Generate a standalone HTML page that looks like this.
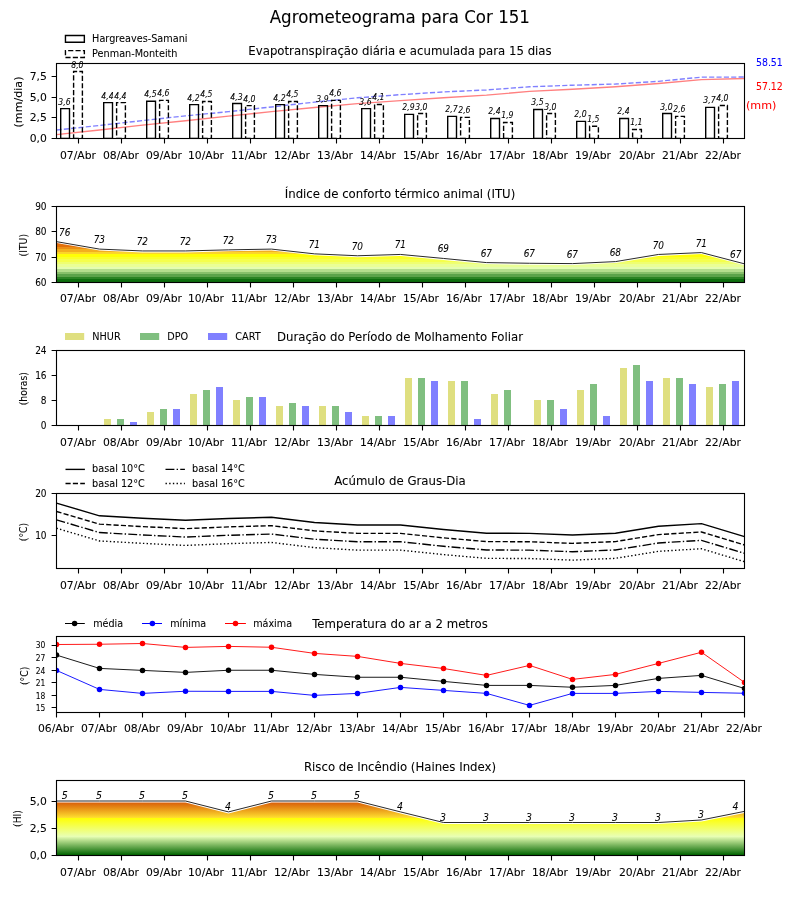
<!DOCTYPE html>
<html lang="pt"><head><meta charset="utf-8"><title>Agrometeograma para Cor 151</title>
<style>html,body{margin:0;padding:0;background:#fff}svg{display:block}</style></head><body>
<svg width="800" height="900" viewBox="0 0 800 900" font-family="'DejaVu Sans','Liberation Sans',sans-serif">
<style>text{stroke-width:0.06px;stroke-linejoin:round}</style>
<rect width="800" height="900" fill="#fff"/>
<text transform="translate(399.8 23) scale(0.926 1)" font-size="18" text-anchor="middle" stroke="#000" style="stroke-width:0.08px">Agrometeograma para Cor 151</text>
<g id="eto">
<polyline points="56.5,134.67 99.5,129.98 142.5,125.18 185.5,120.71 228.5,116.13 271.5,111.66 314.5,107.5 357.5,103.67 400.5,100.58 443.5,97.7 486.5,95.15 529.5,91.42 572.5,89.29 615.5,86.73 658.5,83.53 701.5,79.59 744.5,78.52" fill="none" stroke="#ff8080" stroke-width="1.39"/>
<polyline points="56.5,130.05 99.5,125.43 142.5,120.6 185.5,115.87 228.5,111.67 271.5,106.95 314.5,102.12 357.5,97.81 400.5,94.66 443.5,91.93 486.5,89.94 529.5,86.79 572.5,85.21 615.5,84.06 658.5,81.33 701.5,77.13 744.5,77.06" fill="none" stroke="#8080ff" stroke-width="1.39" stroke-dasharray="5.14 2.22"/>
<path d="M60.7 138.35h8.8V108.65h-8.8zM103.7 138.35h8.8V102.65h-8.8zM146.7 138.35h8.8V101.25h-8.8zM189.7 138.35h8.8V104.6h-8.8zM232.7 138.35h8.8V103.55h-8.8zM275.7 138.35h8.8V104.6h-8.8zM318.7 138.35h8.8V105.65h-8.8zM361.7 138.35h8.8V108.65h-8.8zM404.7 138.35h8.8V114.4h-8.8zM447.7 138.35h8.8V116.35h-8.8zM490.7 138.35h8.8V118.45h-8.8zM533.7 138.35h8.8V109.5h-8.8zM576.7 138.35h8.8V121.4h-8.8zM619.7 138.35h8.8V118.45h-8.8zM662.7 138.35h8.8V113.55h-8.8zM705.7 138.35h8.8V107.4h-8.8z" fill="none" stroke="#000" stroke-width="1.39"/>
<path d="M73.6 138.35h8.8V71.45h-8.8zM116.6 138.35h8.8V102.65h-8.8zM159.6 138.35h8.8V100.4h-8.8zM202.6 138.35h8.8V101.45h-8.8zM245.6 138.35h8.8V105.65h-8.8zM288.6 138.35h8.8V101.45h-8.8zM331.6 138.35h8.8V100.4h-8.8zM374.6 138.35h8.8V104.45h-8.8zM417.6 138.35h8.8V113.55h-8.8zM460.6 138.35h8.8V117.35h-8.8zM503.6 138.35h8.8V122.45h-8.8zM546.6 138.35h8.8V113.55h-8.8zM589.6 138.35h8.8V126.3h-8.8zM632.6 138.35h8.8V129.45h-8.8zM675.6 138.35h8.8V116.35h-8.8zM718.6 138.35h8.8V105.45h-8.8z" fill="none" stroke="#000" stroke-width="1.39" stroke-dasharray="5.14 2.22"/>
<rect x="56.5" y="63.5" width="688" height="75" fill="none" stroke="#000" stroke-width="1.11"/>
<text x="64.5" y="104.6" font-size="8.6" text-anchor="middle" font-style="italic" font-family="'DejaVu Sans Condensed','DejaVu Sans','Liberation Sans',sans-serif" stroke="#000">3,6</text>
<text x="77.4" y="67.7" font-size="8.6" text-anchor="middle" font-style="italic" font-family="'DejaVu Sans Condensed','DejaVu Sans','Liberation Sans',sans-serif" stroke="#000">8,0</text>
<text x="107.5" y="98.6" font-size="8.6" text-anchor="middle" font-style="italic" font-family="'DejaVu Sans Condensed','DejaVu Sans','Liberation Sans',sans-serif" stroke="#000">4,4</text>
<text x="120.4" y="98.6" font-size="8.6" text-anchor="middle" font-style="italic" font-family="'DejaVu Sans Condensed','DejaVu Sans','Liberation Sans',sans-serif" stroke="#000">4,4</text>
<text x="150.5" y="97.2" font-size="8.6" text-anchor="middle" font-style="italic" font-family="'DejaVu Sans Condensed','DejaVu Sans','Liberation Sans',sans-serif" stroke="#000">4,5</text>
<text x="163.4" y="96.35" font-size="8.6" text-anchor="middle" font-style="italic" font-family="'DejaVu Sans Condensed','DejaVu Sans','Liberation Sans',sans-serif" stroke="#000">4,6</text>
<text x="193.5" y="100.55" font-size="8.6" text-anchor="middle" font-style="italic" font-family="'DejaVu Sans Condensed','DejaVu Sans','Liberation Sans',sans-serif" stroke="#000">4,2</text>
<text x="206.4" y="97.4" font-size="8.6" text-anchor="middle" font-style="italic" font-family="'DejaVu Sans Condensed','DejaVu Sans','Liberation Sans',sans-serif" stroke="#000">4,5</text>
<text x="236.5" y="99.5" font-size="8.6" text-anchor="middle" font-style="italic" font-family="'DejaVu Sans Condensed','DejaVu Sans','Liberation Sans',sans-serif" stroke="#000">4,3</text>
<text x="249.4" y="101.6" font-size="8.6" text-anchor="middle" font-style="italic" font-family="'DejaVu Sans Condensed','DejaVu Sans','Liberation Sans',sans-serif" stroke="#000">4,0</text>
<text x="279.5" y="100.55" font-size="8.6" text-anchor="middle" font-style="italic" font-family="'DejaVu Sans Condensed','DejaVu Sans','Liberation Sans',sans-serif" stroke="#000">4,2</text>
<text x="292.4" y="97.4" font-size="8.6" text-anchor="middle" font-style="italic" font-family="'DejaVu Sans Condensed','DejaVu Sans','Liberation Sans',sans-serif" stroke="#000">4,5</text>
<text x="322.5" y="101.6" font-size="8.6" text-anchor="middle" font-style="italic" font-family="'DejaVu Sans Condensed','DejaVu Sans','Liberation Sans',sans-serif" stroke="#000">3,9</text>
<text x="335.4" y="96.35" font-size="8.6" text-anchor="middle" font-style="italic" font-family="'DejaVu Sans Condensed','DejaVu Sans','Liberation Sans',sans-serif" stroke="#000">4,6</text>
<text x="365.5" y="104.6" font-size="8.6" text-anchor="middle" font-style="italic" font-family="'DejaVu Sans Condensed','DejaVu Sans','Liberation Sans',sans-serif" stroke="#000">3,6</text>
<text x="378.4" y="100.4" font-size="8.6" text-anchor="middle" font-style="italic" font-family="'DejaVu Sans Condensed','DejaVu Sans','Liberation Sans',sans-serif" stroke="#000">4,1</text>
<text x="408.5" y="110.35" font-size="8.6" text-anchor="middle" font-style="italic" font-family="'DejaVu Sans Condensed','DejaVu Sans','Liberation Sans',sans-serif" stroke="#000">2,9</text>
<text x="421.4" y="109.5" font-size="8.6" text-anchor="middle" font-style="italic" font-family="'DejaVu Sans Condensed','DejaVu Sans','Liberation Sans',sans-serif" stroke="#000">3,0</text>
<text x="451.5" y="112.3" font-size="8.6" text-anchor="middle" font-style="italic" font-family="'DejaVu Sans Condensed','DejaVu Sans','Liberation Sans',sans-serif" stroke="#000">2,7</text>
<text x="464.4" y="113.3" font-size="8.6" text-anchor="middle" font-style="italic" font-family="'DejaVu Sans Condensed','DejaVu Sans','Liberation Sans',sans-serif" stroke="#000">2,6</text>
<text x="494.5" y="114.4" font-size="8.6" text-anchor="middle" font-style="italic" font-family="'DejaVu Sans Condensed','DejaVu Sans','Liberation Sans',sans-serif" stroke="#000">2,4</text>
<text x="507.4" y="118.4" font-size="8.6" text-anchor="middle" font-style="italic" font-family="'DejaVu Sans Condensed','DejaVu Sans','Liberation Sans',sans-serif" stroke="#000">1,9</text>
<text x="537.5" y="105.45" font-size="8.6" text-anchor="middle" font-style="italic" font-family="'DejaVu Sans Condensed','DejaVu Sans','Liberation Sans',sans-serif" stroke="#000">3,5</text>
<text x="550.4" y="109.5" font-size="8.6" text-anchor="middle" font-style="italic" font-family="'DejaVu Sans Condensed','DejaVu Sans','Liberation Sans',sans-serif" stroke="#000">3,0</text>
<text x="580.5" y="117.35" font-size="8.6" text-anchor="middle" font-style="italic" font-family="'DejaVu Sans Condensed','DejaVu Sans','Liberation Sans',sans-serif" stroke="#000">2,0</text>
<text x="593.4" y="122.25" font-size="8.6" text-anchor="middle" font-style="italic" font-family="'DejaVu Sans Condensed','DejaVu Sans','Liberation Sans',sans-serif" stroke="#000">1,5</text>
<text x="623.5" y="114.4" font-size="8.6" text-anchor="middle" font-style="italic" font-family="'DejaVu Sans Condensed','DejaVu Sans','Liberation Sans',sans-serif" stroke="#000">2,4</text>
<text x="636.4" y="125.4" font-size="8.6" text-anchor="middle" font-style="italic" font-family="'DejaVu Sans Condensed','DejaVu Sans','Liberation Sans',sans-serif" stroke="#000">1,1</text>
<text x="666.5" y="109.5" font-size="8.6" text-anchor="middle" font-style="italic" font-family="'DejaVu Sans Condensed','DejaVu Sans','Liberation Sans',sans-serif" stroke="#000">3,0</text>
<text x="679.4" y="112.3" font-size="8.6" text-anchor="middle" font-style="italic" font-family="'DejaVu Sans Condensed','DejaVu Sans','Liberation Sans',sans-serif" stroke="#000">2,6</text>
<text x="709.5" y="103.35" font-size="8.6" text-anchor="middle" font-style="italic" font-family="'DejaVu Sans Condensed','DejaVu Sans','Liberation Sans',sans-serif" stroke="#000">3,7</text>
<text x="722.4" y="101.4" font-size="8.6" text-anchor="middle" font-style="italic" font-family="'DejaVu Sans Condensed','DejaVu Sans','Liberation Sans',sans-serif" stroke="#000">4,0</text>
<path d="M78.5 138.5v4.9M121.5 138.5v4.9M164.5 138.5v4.9M207.5 138.5v4.9M250.5 138.5v4.9M293.5 138.5v4.9M336.5 138.5v4.9M379.5 138.5v4.9M422.5 138.5v4.9M465.5 138.5v4.9M508.5 138.5v4.9M551.5 138.5v4.9M594.5 138.5v4.9M637.5 138.5v4.9M680.5 138.5v4.9M723.5 138.5v4.9" stroke="#000" stroke-width="1.11" fill="none"/>
<text x="78" y="159.1" font-size="10.8" text-anchor="middle" stroke="#000">07/Abr</text>
<text x="121" y="159.1" font-size="10.8" text-anchor="middle" stroke="#000">08/Abr</text>
<text x="164" y="159.1" font-size="10.8" text-anchor="middle" stroke="#000">09/Abr</text>
<text x="206" y="159.1" font-size="10.8" text-anchor="middle" stroke="#000">10/Abr</text>
<text x="249" y="159.1" font-size="10.8" text-anchor="middle" stroke="#000">11/Abr</text>
<text x="292" y="159.1" font-size="10.8" text-anchor="middle" stroke="#000">12/Abr</text>
<text x="335" y="159.1" font-size="10.8" text-anchor="middle" stroke="#000">13/Abr</text>
<text x="378" y="159.1" font-size="10.8" text-anchor="middle" stroke="#000">14/Abr</text>
<text x="421" y="159.1" font-size="10.8" text-anchor="middle" stroke="#000">15/Abr</text>
<text x="464" y="159.1" font-size="10.8" text-anchor="middle" stroke="#000">16/Abr</text>
<text x="507" y="159.1" font-size="10.8" text-anchor="middle" stroke="#000">17/Abr</text>
<text x="550" y="159.1" font-size="10.8" text-anchor="middle" stroke="#000">18/Abr</text>
<text x="593" y="159.1" font-size="10.8" text-anchor="middle" stroke="#000">19/Abr</text>
<text x="637" y="159.1" font-size="10.8" text-anchor="middle" stroke="#000">20/Abr</text>
<text x="680" y="159.1" font-size="10.8" text-anchor="middle" stroke="#000">21/Abr</text>
<text x="723" y="159.1" font-size="10.8" text-anchor="middle" stroke="#000">22/Abr</text>
<path d="M56.5 138.5h-4.9M56.5 117.5h-4.9M56.5 97.5h-4.9M56.5 76.5h-4.9" stroke="#000" stroke-width="1.11" fill="none"/>
<text x="46.9" y="141.7" font-size="10.8" text-anchor="end" stroke="#000">0,0</text>
<text x="46.9" y="120.7" font-size="10.8" text-anchor="end" stroke="#000">2,5</text>
<text x="46.9" y="100.7" font-size="10.8" text-anchor="end" stroke="#000">5,0</text>
<text x="46.9" y="79.7" font-size="10.8" text-anchor="end" stroke="#000">7,5</text>
<text x="21.9" y="102" font-size="11.11" text-anchor="middle" stroke="#000" transform="rotate(-90 21.9 102)">(mm/dia)</text>
<text x="400" y="54.8" font-size="11.74" text-anchor="middle" stroke="#000">Evapotranspiração diária e acumulada para 15 dias</text>
<path d="M65.45 42.3h18.9v-6.85h-18.9z" fill="none" stroke="#000" stroke-width="1.39"/>
<path d="M65.45 57.5h18.9v-6.85h-18.9z" fill="none" stroke="#000" stroke-width="1.39" stroke-dasharray="5.14 2.22"/>
<text x="92.1" y="42" font-size="9.7" text-anchor="start" stroke="#000">Hargreaves-Samani</text>
<text x="92.1" y="57" font-size="9.7" text-anchor="start" stroke="#000">Penman-Monteith</text>
<text x="756" y="66" font-size="10.4" text-anchor="start" fill="#0000ff" stroke="#0000ff" font-family="'DejaVu Sans Condensed','DejaVu Sans','Liberation Sans',sans-serif">58.51</text>
<text x="756" y="90" font-size="10.4" text-anchor="start" fill="#ff0000" stroke="#ff0000" font-family="'DejaVu Sans Condensed','DejaVu Sans','Liberation Sans',sans-serif">57.12</text>
<text x="746" y="109.2" font-size="11.11" text-anchor="start" fill="#ff0000" stroke="#ff0000">(mm)</text>
</g>
<g id="itu">
<clipPath id="citu"><path d="M56.5 282.5L56.5 243.1L99.5 250.55L142.5 252.4L185.5 252.4L228.5 251.3L271.5 250.55L314.5 255.3L357.5 257.2L400.5 255.9L443.5 259.9L486.5 264.05L529.5 264.7L572.5 265.05L615.5 263.05L658.5 255.9L701.5 254.05L744.5 265.3L744.5 282.5z"/></clipPath>
<g clip-path="url(#citu)">
<rect x="56.5" y="279" width="688" height="4" fill="#0e6e0e"/>
<rect x="56.5" y="277" width="688" height="2" fill="#2c8424"/>
<rect x="56.5" y="274" width="688" height="3" fill="#5ca34a"/>
<rect x="56.5" y="272" width="688" height="2" fill="#88c06a"/>
<rect x="56.5" y="269" width="688" height="3" fill="#b5de8d"/>
<rect x="56.5" y="267" width="688" height="2" fill="#e4fdb1"/>
<rect x="56.5" y="264" width="688" height="3" fill="#eaff96"/>
<rect x="56.5" y="262" width="688" height="2" fill="#efff70"/>
<rect x="56.5" y="259" width="688" height="3" fill="#f5ff4c"/>
<rect x="56.5" y="257" width="688" height="2" fill="#faff2a"/>
<rect x="56.5" y="254" width="688" height="3" fill="#ffff06"/>
<rect x="56.5" y="252" width="688" height="2" fill="#fcd42a"/>
<rect x="56.5" y="249" width="688" height="3" fill="#f3af1e"/>
<rect x="56.5" y="247" width="688" height="2" fill="#eb8e14"/>
<rect x="56.5" y="244" width="688" height="3" fill="#e2700b"/>
<rect x="56.5" y="239" width="688" height="5" fill="#d85606"/>
</g>
<polyline points="56.5,241.65 99.5,249.1 142.5,250.95 185.5,250.95 228.5,249.85 271.5,249.1 314.5,253.85 357.5,255.75 400.5,254.45 443.5,258.45 486.5,262.6 529.5,263.25 572.5,263.6 615.5,261.6 658.5,254.45 701.5,252.6 744.5,263.85" fill="none" stroke="#111" stroke-width="0.9"/>
<text x="64.7" y="236" font-size="9.9" text-anchor="middle" font-style="italic" font-family="'DejaVu Sans Condensed','DejaVu Sans','Liberation Sans',sans-serif" stroke="#000">76</text>
<text x="99.3" y="242.9" font-size="9.9" text-anchor="middle" font-style="italic" font-family="'DejaVu Sans Condensed','DejaVu Sans','Liberation Sans',sans-serif" stroke="#000">73</text>
<text x="142.3" y="245" font-size="9.9" text-anchor="middle" font-style="italic" font-family="'DejaVu Sans Condensed','DejaVu Sans','Liberation Sans',sans-serif" stroke="#000">72</text>
<text x="185.3" y="244.75" font-size="9.9" text-anchor="middle" font-style="italic" font-family="'DejaVu Sans Condensed','DejaVu Sans','Liberation Sans',sans-serif" stroke="#000">72</text>
<text x="228.3" y="243.75" font-size="9.9" text-anchor="middle" font-style="italic" font-family="'DejaVu Sans Condensed','DejaVu Sans','Liberation Sans',sans-serif" stroke="#000">72</text>
<text x="271.3" y="242.9" font-size="9.9" text-anchor="middle" font-style="italic" font-family="'DejaVu Sans Condensed','DejaVu Sans','Liberation Sans',sans-serif" stroke="#000">73</text>
<text x="314.3" y="247.9" font-size="9.9" text-anchor="middle" font-style="italic" font-family="'DejaVu Sans Condensed','DejaVu Sans','Liberation Sans',sans-serif" stroke="#000">71</text>
<text x="357.3" y="249.6" font-size="9.9" text-anchor="middle" font-style="italic" font-family="'DejaVu Sans Condensed','DejaVu Sans','Liberation Sans',sans-serif" stroke="#000">70</text>
<text x="400.3" y="248.1" font-size="9.9" text-anchor="middle" font-style="italic" font-family="'DejaVu Sans Condensed','DejaVu Sans','Liberation Sans',sans-serif" stroke="#000">71</text>
<text x="443.3" y="251.8" font-size="9.9" text-anchor="middle" font-style="italic" font-family="'DejaVu Sans Condensed','DejaVu Sans','Liberation Sans',sans-serif" stroke="#000">69</text>
<text x="486.3" y="256.7" font-size="9.9" text-anchor="middle" font-style="italic" font-family="'DejaVu Sans Condensed','DejaVu Sans','Liberation Sans',sans-serif" stroke="#000">67</text>
<text x="529.3" y="256.7" font-size="9.9" text-anchor="middle" font-style="italic" font-family="'DejaVu Sans Condensed','DejaVu Sans','Liberation Sans',sans-serif" stroke="#000">67</text>
<text x="572.3" y="257.75" font-size="9.9" text-anchor="middle" font-style="italic" font-family="'DejaVu Sans Condensed','DejaVu Sans','Liberation Sans',sans-serif" stroke="#000">67</text>
<text x="615.3" y="255.6" font-size="9.9" text-anchor="middle" font-style="italic" font-family="'DejaVu Sans Condensed','DejaVu Sans','Liberation Sans',sans-serif" stroke="#000">68</text>
<text x="658.3" y="248.75" font-size="9.9" text-anchor="middle" font-style="italic" font-family="'DejaVu Sans Condensed','DejaVu Sans','Liberation Sans',sans-serif" stroke="#000">70</text>
<text x="701.3" y="246.9" font-size="9.9" text-anchor="middle" font-style="italic" font-family="'DejaVu Sans Condensed','DejaVu Sans','Liberation Sans',sans-serif" stroke="#000">71</text>
<text x="735.75" y="257.75" font-size="9.9" text-anchor="middle" font-style="italic" font-family="'DejaVu Sans Condensed','DejaVu Sans','Liberation Sans',sans-serif" stroke="#000">67</text>
<rect x="56.5" y="206.5" width="688" height="76" fill="none" stroke="#000" stroke-width="1.11"/>
<path d="M78.5 282.5v4.9M121.5 282.5v4.9M164.5 282.5v4.9M207.5 282.5v4.9M250.5 282.5v4.9M293.5 282.5v4.9M336.5 282.5v4.9M379.5 282.5v4.9M422.5 282.5v4.9M465.5 282.5v4.9M508.5 282.5v4.9M551.5 282.5v4.9M594.5 282.5v4.9M637.5 282.5v4.9M680.5 282.5v4.9M723.5 282.5v4.9" stroke="#000" stroke-width="1.11" fill="none"/>
<text x="78" y="302.1" font-size="10.8" text-anchor="middle" stroke="#000">07/Abr</text>
<text x="121" y="302.1" font-size="10.8" text-anchor="middle" stroke="#000">08/Abr</text>
<text x="164" y="302.1" font-size="10.8" text-anchor="middle" stroke="#000">09/Abr</text>
<text x="206" y="302.1" font-size="10.8" text-anchor="middle" stroke="#000">10/Abr</text>
<text x="249" y="302.1" font-size="10.8" text-anchor="middle" stroke="#000">11/Abr</text>
<text x="292" y="302.1" font-size="10.8" text-anchor="middle" stroke="#000">12/Abr</text>
<text x="335" y="302.1" font-size="10.8" text-anchor="middle" stroke="#000">13/Abr</text>
<text x="378" y="302.1" font-size="10.8" text-anchor="middle" stroke="#000">14/Abr</text>
<text x="421" y="302.1" font-size="10.8" text-anchor="middle" stroke="#000">15/Abr</text>
<text x="464" y="302.1" font-size="10.8" text-anchor="middle" stroke="#000">16/Abr</text>
<text x="507" y="302.1" font-size="10.8" text-anchor="middle" stroke="#000">17/Abr</text>
<text x="550" y="302.1" font-size="10.8" text-anchor="middle" stroke="#000">18/Abr</text>
<text x="593" y="302.1" font-size="10.8" text-anchor="middle" stroke="#000">19/Abr</text>
<text x="637" y="302.1" font-size="10.8" text-anchor="middle" stroke="#000">20/Abr</text>
<text x="680" y="302.1" font-size="10.8" text-anchor="middle" stroke="#000">21/Abr</text>
<text x="723" y="302.1" font-size="10.8" text-anchor="middle" stroke="#000">22/Abr</text>
<path d="M56.5 282.5h-4.9M56.5 257.5h-4.9M56.5 231.5h-4.9M56.5 206.5h-4.9" stroke="#000" stroke-width="1.11" fill="none"/>
<text x="46.6" y="285.6" font-size="10" text-anchor="end" stroke="#000" font-family="'DejaVu Sans Condensed','DejaVu Sans','Liberation Sans',sans-serif">60</text>
<text x="46.6" y="260.6" font-size="10" text-anchor="end" stroke="#000" font-family="'DejaVu Sans Condensed','DejaVu Sans','Liberation Sans',sans-serif">70</text>
<text x="46.6" y="234.6" font-size="10" text-anchor="end" stroke="#000" font-family="'DejaVu Sans Condensed','DejaVu Sans','Liberation Sans',sans-serif">80</text>
<text x="46.6" y="209.6" font-size="10" text-anchor="end" stroke="#000" font-family="'DejaVu Sans Condensed','DejaVu Sans','Liberation Sans',sans-serif">90</text>
<text x="27" y="245.2" font-size="10.3" text-anchor="middle" stroke="#000" transform="rotate(-90 27 245.2)" font-family="'DejaVu Sans Condensed','DejaVu Sans','Liberation Sans',sans-serif">(ITU)</text>
<text x="400" y="197.9" font-size="11.74" text-anchor="middle" stroke="#000">Índice de conforto térmico animal (ITU)</text>
</g>
<g id="dpm" shape-rendering="crispEdges">
<path d="M104 425H111V419H104zM147 425H154V412H147zM190 425H197V394H190zM233 425H240V400H233zM276 425H283V406H276zM319 425H326V406H319zM362 425H369V416H362zM405 425H412V378H405zM448 425H455V381H448zM491 425H498V394H491zM534 425H541V400H534zM577 425H584V390H577zM620 425H627V368H620zM663 425H670V378H663zM706 425H713V387H706z" fill="#dfdf80"/>
<path d="M117 425H124V419H117zM160 425H167V409H160zM203 425H210V390H203zM246 425H253V397H246zM289 425H296V403H289zM332 425H339V406H332zM375 425H382V416H375zM418 425H425V378H418zM461 425H468V381H461zM504 425H511V390H504zM547 425H554V400H547zM590 425H597V384H590zM633 425H640V365H633zM676 425H683V378H676zM719 425H726V384H719z" fill="#80bf80"/>
<path d="M130 425H137V422H130zM173 425H180V409H173zM216 425H223V387H216zM259 425H266V397H259zM302 425H309V406H302zM345 425H352V412H345zM388 425H395V416H388zM431 425H438V381H431zM474 425H481V419H474zM560 425H567V409H560zM603 425H610V416H603zM646 425H653V381H646zM689 425H696V384H689zM732 425H739V381H732z" fill="#8080ff"/>
</g>
<g id="dpm-axes">
<rect x="56.5" y="350.5" width="688" height="75" fill="none" stroke="#000" stroke-width="1.11"/>
<path d="M78.5 425.5v4.9M121.5 425.5v4.9M164.5 425.5v4.9M207.5 425.5v4.9M250.5 425.5v4.9M293.5 425.5v4.9M336.5 425.5v4.9M379.5 425.5v4.9M422.5 425.5v4.9M465.5 425.5v4.9M508.5 425.5v4.9M551.5 425.5v4.9M594.5 425.5v4.9M637.5 425.5v4.9M680.5 425.5v4.9M723.5 425.5v4.9" stroke="#000" stroke-width="1.11" fill="none"/>
<text x="78" y="446.1" font-size="10.8" text-anchor="middle" stroke="#000">07/Abr</text>
<text x="121" y="446.1" font-size="10.8" text-anchor="middle" stroke="#000">08/Abr</text>
<text x="164" y="446.1" font-size="10.8" text-anchor="middle" stroke="#000">09/Abr</text>
<text x="206" y="446.1" font-size="10.8" text-anchor="middle" stroke="#000">10/Abr</text>
<text x="249" y="446.1" font-size="10.8" text-anchor="middle" stroke="#000">11/Abr</text>
<text x="292" y="446.1" font-size="10.8" text-anchor="middle" stroke="#000">12/Abr</text>
<text x="335" y="446.1" font-size="10.8" text-anchor="middle" stroke="#000">13/Abr</text>
<text x="378" y="446.1" font-size="10.8" text-anchor="middle" stroke="#000">14/Abr</text>
<text x="421" y="446.1" font-size="10.8" text-anchor="middle" stroke="#000">15/Abr</text>
<text x="464" y="446.1" font-size="10.8" text-anchor="middle" stroke="#000">16/Abr</text>
<text x="507" y="446.1" font-size="10.8" text-anchor="middle" stroke="#000">17/Abr</text>
<text x="550" y="446.1" font-size="10.8" text-anchor="middle" stroke="#000">18/Abr</text>
<text x="593" y="446.1" font-size="10.8" text-anchor="middle" stroke="#000">19/Abr</text>
<text x="637" y="446.1" font-size="10.8" text-anchor="middle" stroke="#000">20/Abr</text>
<text x="680" y="446.1" font-size="10.8" text-anchor="middle" stroke="#000">21/Abr</text>
<text x="723" y="446.1" font-size="10.8" text-anchor="middle" stroke="#000">22/Abr</text>
<path d="M56.5 425.5h-4.9M56.5 400.5h-4.9M56.5 375.5h-4.9M56.5 350.5h-4.9" stroke="#000" stroke-width="1.11" fill="none"/>
<text x="46.6" y="428.6" font-size="10" text-anchor="end" stroke="#000" font-family="'DejaVu Sans Condensed','DejaVu Sans','Liberation Sans',sans-serif">0</text>
<text x="46.6" y="403.6" font-size="10" text-anchor="end" stroke="#000" font-family="'DejaVu Sans Condensed','DejaVu Sans','Liberation Sans',sans-serif">8</text>
<text x="46.6" y="378.6" font-size="10" text-anchor="end" stroke="#000" font-family="'DejaVu Sans Condensed','DejaVu Sans','Liberation Sans',sans-serif">16</text>
<text x="46.6" y="353.6" font-size="10" text-anchor="end" stroke="#000" font-family="'DejaVu Sans Condensed','DejaVu Sans','Liberation Sans',sans-serif">24</text>
<text x="27" y="388.7" font-size="10.3" text-anchor="middle" stroke="#000" transform="rotate(-90 27 388.7)" font-family="'DejaVu Sans Condensed','DejaVu Sans','Liberation Sans',sans-serif">(horas)</text>
<text x="400" y="341.1" font-size="11.74" text-anchor="middle" stroke="#000">Duração do Período de Molhamento Foliar</text>
<rect x="65" y="333" width="19.2" height="7" fill="#dfdf80"/>
<text x="92.3" y="340.2" font-size="9.7" text-anchor="start" stroke="#000">NHUR</text>
<rect x="140" y="333" width="19.2" height="7" fill="#80bf80"/>
<text x="167.3" y="340.2" font-size="9.7" text-anchor="start" stroke="#000">DPO</text>
<rect x="208" y="333" width="19.2" height="7" fill="#8080ff"/>
<text x="235.3" y="340.2" font-size="9.7" text-anchor="start" stroke="#000">CART</text>
</g>
<g id="gd">
<clipPath id="c4"><rect x="56.5" y="493.5" width="688" height="75"/></clipPath>
<g clip-path="url(#c4)" fill="none" stroke="#000" stroke-width="1.39">
<polyline points="56.5,503.1 99.5,515.8 142.5,518.2 185.5,520.3 228.5,518.5 271.5,517.3 314.5,522.5 357.5,525 400.5,525 443.5,529.5 486.5,533.2 529.5,533.4 572.5,535 615.5,533.2 658.5,526.2 701.5,523.6 744.5,536.6"/>
<polyline points="56.5,511.48 99.5,524.18 142.5,526.58 185.5,528.68 228.5,526.88 271.5,525.68 314.5,530.88 357.5,533.38 400.5,533.38 443.5,537.88 486.5,541.58 529.5,541.78 572.5,543.38 615.5,541.58 658.5,534.58 701.5,531.98 744.5,544.98" stroke-dasharray="5.14 2.22"/>
<polyline points="56.5,519.86 99.5,532.56 142.5,534.96 185.5,537.06 228.5,535.26 271.5,534.06 314.5,539.26 357.5,541.76 400.5,541.76 443.5,546.26 486.5,549.96 529.5,550.16 572.5,551.76 615.5,549.96 658.5,542.96 701.5,540.36 744.5,553.36" stroke-dasharray="8.9 2.22 1.39 2.22"/>
<polyline points="56.5,528.24 99.5,540.94 142.5,543.34 185.5,545.44 228.5,543.64 271.5,542.44 314.5,547.64 357.5,550.14 400.5,550.14 443.5,554.64 486.5,558.34 529.5,558.54 572.5,560.14 615.5,558.34 658.5,551.34 701.5,548.74 744.5,561.74" stroke-dasharray="1.39 2.29"/>
</g>
<rect x="56.5" y="493.5" width="688" height="75" fill="none" stroke="#000" stroke-width="1.11"/>
<path d="M78.5 568.5v4.9M121.5 568.5v4.9M164.5 568.5v4.9M207.5 568.5v4.9M250.5 568.5v4.9M293.5 568.5v4.9M336.5 568.5v4.9M379.5 568.5v4.9M422.5 568.5v4.9M465.5 568.5v4.9M508.5 568.5v4.9M551.5 568.5v4.9M594.5 568.5v4.9M637.5 568.5v4.9M680.5 568.5v4.9M723.5 568.5v4.9" stroke="#000" stroke-width="1.11" fill="none"/>
<text x="78" y="589.1" font-size="10.8" text-anchor="middle" stroke="#000">07/Abr</text>
<text x="121" y="589.1" font-size="10.8" text-anchor="middle" stroke="#000">08/Abr</text>
<text x="164" y="589.1" font-size="10.8" text-anchor="middle" stroke="#000">09/Abr</text>
<text x="206" y="589.1" font-size="10.8" text-anchor="middle" stroke="#000">10/Abr</text>
<text x="249" y="589.1" font-size="10.8" text-anchor="middle" stroke="#000">11/Abr</text>
<text x="292" y="589.1" font-size="10.8" text-anchor="middle" stroke="#000">12/Abr</text>
<text x="335" y="589.1" font-size="10.8" text-anchor="middle" stroke="#000">13/Abr</text>
<text x="378" y="589.1" font-size="10.8" text-anchor="middle" stroke="#000">14/Abr</text>
<text x="421" y="589.1" font-size="10.8" text-anchor="middle" stroke="#000">15/Abr</text>
<text x="464" y="589.1" font-size="10.8" text-anchor="middle" stroke="#000">16/Abr</text>
<text x="507" y="589.1" font-size="10.8" text-anchor="middle" stroke="#000">17/Abr</text>
<text x="550" y="589.1" font-size="10.8" text-anchor="middle" stroke="#000">18/Abr</text>
<text x="593" y="589.1" font-size="10.8" text-anchor="middle" stroke="#000">19/Abr</text>
<text x="637" y="589.1" font-size="10.8" text-anchor="middle" stroke="#000">20/Abr</text>
<text x="680" y="589.1" font-size="10.8" text-anchor="middle" stroke="#000">21/Abr</text>
<text x="723" y="589.1" font-size="10.8" text-anchor="middle" stroke="#000">22/Abr</text>
<path d="M56.5 535.5h-4.9M56.5 493.5h-4.9" stroke="#000" stroke-width="1.11" fill="none"/>
<text x="46.6" y="538.6" font-size="10" text-anchor="end" stroke="#000" font-family="'DejaVu Sans Condensed','DejaVu Sans','Liberation Sans',sans-serif">10</text>
<text x="46.6" y="496.6" font-size="10" text-anchor="end" stroke="#000" font-family="'DejaVu Sans Condensed','DejaVu Sans','Liberation Sans',sans-serif">20</text>
<text x="27" y="532" font-size="10.3" text-anchor="middle" stroke="#000" transform="rotate(-90 27 532)" font-family="'DejaVu Sans Condensed','DejaVu Sans','Liberation Sans',sans-serif">(°C)</text>
<text x="400" y="484.5" font-size="11.74" text-anchor="middle" stroke="#000">Acúmulo de Graus-Dia</text>
<path d="M65.5 469.4h19.4" stroke="#000" stroke-width="1.39" fill="none"/>
<text x="92.1" y="472.1" font-size="9.7" text-anchor="start" stroke="#000">basal 10°C</text>
<path d="M65.5 483.5h19.4" stroke="#000" stroke-width="1.39" fill="none" stroke-dasharray="5.14 2.22"/>
<text x="92.1" y="487.1" font-size="9.7" text-anchor="start" stroke="#000">basal 12°C</text>
<path d="M165.5 469.4h19.4" stroke="#000" stroke-width="1.39" fill="none" stroke-dasharray="8.9 2.22 1.39 2.22"/>
<text x="192.1" y="472.1" font-size="9.7" text-anchor="start" stroke="#000">basal 14°C</text>
<path d="M165.5 483.5h19.4" stroke="#000" stroke-width="1.39" fill="none" stroke-dasharray="1.39 2.29"/>
<text x="192.1" y="487.1" font-size="9.7" text-anchor="start" stroke="#000">basal 16°C</text>
</g>
<g id="temp">
<clipPath id="c5"><rect x="56" y="636.5" width="689" height="76"/></clipPath>
<g clip-path="url(#c5)">
<polyline points="56.5,655.1 99.5,668.4 142.5,670.4 185.5,672.4 228.5,670.25 271.5,670.25 314.5,674.4 357.5,677.25 400.5,677.25 443.5,681.4 486.5,685.4 529.5,685.4 572.5,687.25 615.5,685.4 658.5,678.4 701.5,675.4 744.5,688.5" fill="none" stroke="#000" stroke-width="0.9"/>
<g fill="#000"><circle cx="56.5" cy="655.1" r="2.75"/><circle cx="99.5" cy="668.4" r="2.75"/><circle cx="142.5" cy="670.4" r="2.75"/><circle cx="185.5" cy="672.4" r="2.75"/><circle cx="228.5" cy="670.25" r="2.75"/><circle cx="271.5" cy="670.25" r="2.75"/><circle cx="314.5" cy="674.4" r="2.75"/><circle cx="357.5" cy="677.25" r="2.75"/><circle cx="400.5" cy="677.25" r="2.75"/><circle cx="443.5" cy="681.4" r="2.75"/><circle cx="486.5" cy="685.4" r="2.75"/><circle cx="529.5" cy="685.4" r="2.75"/><circle cx="572.5" cy="687.25" r="2.75"/><circle cx="615.5" cy="685.4" r="2.75"/><circle cx="658.5" cy="678.4" r="2.75"/><circle cx="701.5" cy="675.4" r="2.75"/><circle cx="744.5" cy="688.5" r="2.75"/></g>
<polyline points="56.5,670.4 99.5,689.4 142.5,693.4 185.5,691.25 228.5,691.4 271.5,691.4 314.5,695.4 357.5,693.4 400.5,687.4 443.5,690.4 486.5,693.4 529.5,705.4 572.5,693.4 615.5,693.4 658.5,691.4 701.5,692.4 744.5,693.25" fill="none" stroke="#0000ff" stroke-width="0.9"/>
<g fill="#0000ff"><circle cx="56.5" cy="670.4" r="2.75"/><circle cx="99.5" cy="689.4" r="2.75"/><circle cx="142.5" cy="693.4" r="2.75"/><circle cx="185.5" cy="691.25" r="2.75"/><circle cx="228.5" cy="691.4" r="2.75"/><circle cx="271.5" cy="691.4" r="2.75"/><circle cx="314.5" cy="695.4" r="2.75"/><circle cx="357.5" cy="693.4" r="2.75"/><circle cx="400.5" cy="687.4" r="2.75"/><circle cx="443.5" cy="690.4" r="2.75"/><circle cx="486.5" cy="693.4" r="2.75"/><circle cx="529.5" cy="705.4" r="2.75"/><circle cx="572.5" cy="693.4" r="2.75"/><circle cx="615.5" cy="693.4" r="2.75"/><circle cx="658.5" cy="691.4" r="2.75"/><circle cx="701.5" cy="692.4" r="2.75"/><circle cx="744.5" cy="693.25" r="2.75"/></g>
<polyline points="56.5,644.5 99.5,644.25 142.5,643.5 185.5,647.4 228.5,646.4 271.5,647.25 314.5,653.4 357.5,656.4 400.5,663.4 443.5,668.5 486.5,675.4 529.5,665.4 572.5,679.4 615.5,674.4 658.5,663.4 701.5,652.25 744.5,682.4" fill="none" stroke="#ff0000" stroke-width="0.9"/>
<g fill="#ff0000"><circle cx="56.5" cy="644.5" r="2.75"/><circle cx="99.5" cy="644.25" r="2.75"/><circle cx="142.5" cy="643.5" r="2.75"/><circle cx="185.5" cy="647.4" r="2.75"/><circle cx="228.5" cy="646.4" r="2.75"/><circle cx="271.5" cy="647.25" r="2.75"/><circle cx="314.5" cy="653.4" r="2.75"/><circle cx="357.5" cy="656.4" r="2.75"/><circle cx="400.5" cy="663.4" r="2.75"/><circle cx="443.5" cy="668.5" r="2.75"/><circle cx="486.5" cy="675.4" r="2.75"/><circle cx="529.5" cy="665.4" r="2.75"/><circle cx="572.5" cy="679.4" r="2.75"/><circle cx="615.5" cy="674.4" r="2.75"/><circle cx="658.5" cy="663.4" r="2.75"/><circle cx="701.5" cy="652.25" r="2.75"/><circle cx="744.5" cy="682.4" r="2.75"/></g>
</g>
<rect x="56.5" y="636.5" width="688" height="76" fill="none" stroke="#000" stroke-width="1.11"/>
<path d="M56.5 712.5v4.9M99.5 712.5v4.9M142.5 712.5v4.9M185.5 712.5v4.9M228.5 712.5v4.9M271.5 712.5v4.9M314.5 712.5v4.9M357.5 712.5v4.9M400.5 712.5v4.9M443.5 712.5v4.9M486.5 712.5v4.9M529.5 712.5v4.9M572.5 712.5v4.9M615.5 712.5v4.9M658.5 712.5v4.9M701.5 712.5v4.9M744.5 712.5v4.9" stroke="#000" stroke-width="1.11" fill="none"/>
<text x="56" y="732.1" font-size="10.8" text-anchor="middle" stroke="#000">06/Abr</text>
<text x="99" y="732.1" font-size="10.8" text-anchor="middle" stroke="#000">07/Abr</text>
<text x="142" y="732.1" font-size="10.8" text-anchor="middle" stroke="#000">08/Abr</text>
<text x="185" y="732.1" font-size="10.8" text-anchor="middle" stroke="#000">09/Abr</text>
<text x="228" y="732.1" font-size="10.8" text-anchor="middle" stroke="#000">10/Abr</text>
<text x="271" y="732.1" font-size="10.8" text-anchor="middle" stroke="#000">11/Abr</text>
<text x="314" y="732.1" font-size="10.8" text-anchor="middle" stroke="#000">12/Abr</text>
<text x="357" y="732.1" font-size="10.8" text-anchor="middle" stroke="#000">13/Abr</text>
<text x="400" y="732.1" font-size="10.8" text-anchor="middle" stroke="#000">14/Abr</text>
<text x="443" y="732.1" font-size="10.8" text-anchor="middle" stroke="#000">15/Abr</text>
<text x="486" y="732.1" font-size="10.8" text-anchor="middle" stroke="#000">16/Abr</text>
<text x="529" y="732.1" font-size="10.8" text-anchor="middle" stroke="#000">17/Abr</text>
<text x="572" y="732.1" font-size="10.8" text-anchor="middle" stroke="#000">18/Abr</text>
<text x="615" y="732.1" font-size="10.8" text-anchor="middle" stroke="#000">19/Abr</text>
<text x="658" y="732.1" font-size="10.8" text-anchor="middle" stroke="#000">20/Abr</text>
<text x="701" y="732.1" font-size="10.8" text-anchor="middle" stroke="#000">21/Abr</text>
<text x="744" y="732.1" font-size="10.8" text-anchor="middle" stroke="#000">22/Abr</text>
<path d="M56.5 707.5h-4.9M56.5 695.5h-4.9M56.5 682.5h-4.9M56.5 670.5h-4.9M56.5 657.5h-4.9M56.5 645.5h-4.9" stroke="#000" stroke-width="1.11" fill="none"/>
<text transform="translate(45.3 711) scale(0.875 1)" font-size="9.6" text-anchor="end" stroke="#000" font-family="'DejaVu Sans Condensed','DejaVu Sans','Liberation Sans',sans-serif">15</text>
<text transform="translate(45.3 698.5) scale(0.875 1)" font-size="9.6" text-anchor="end" stroke="#000" font-family="'DejaVu Sans Condensed','DejaVu Sans','Liberation Sans',sans-serif">18</text>
<text transform="translate(45.3 686) scale(0.875 1)" font-size="9.6" text-anchor="end" stroke="#000" font-family="'DejaVu Sans Condensed','DejaVu Sans','Liberation Sans',sans-serif">21</text>
<text transform="translate(45.3 673.5) scale(0.875 1)" font-size="9.6" text-anchor="end" stroke="#000" font-family="'DejaVu Sans Condensed','DejaVu Sans','Liberation Sans',sans-serif">24</text>
<text transform="translate(45.3 661) scale(0.875 1)" font-size="9.6" text-anchor="end" stroke="#000" font-family="'DejaVu Sans Condensed','DejaVu Sans','Liberation Sans',sans-serif">27</text>
<text transform="translate(45.3 648) scale(0.875 1)" font-size="9.6" text-anchor="end" stroke="#000" font-family="'DejaVu Sans Condensed','DejaVu Sans','Liberation Sans',sans-serif">30</text>
<text x="28.3" y="675.9" font-size="10.3" text-anchor="middle" stroke="#000" transform="rotate(-90 28.3 675.9)" font-family="'DejaVu Sans Condensed','DejaVu Sans','Liberation Sans',sans-serif">(°C)</text>
<text x="400" y="627.8" font-size="11.74" text-anchor="middle" stroke="#000">Temperatura do ar a 2 metros</text>
<path d="M65 623.5h19.8" stroke="#000" stroke-width="1.0" fill="none"/>
<circle cx="74.6" cy="623.5" r="2.75" fill="#000"/>
<text x="93.2" y="627.1" font-size="9.62" text-anchor="start" stroke="#000">média</text>
<path d="M142 623.5h20" stroke="#0000ff" stroke-width="1.0" fill="none"/>
<circle cx="152.4" cy="623.5" r="2.75" fill="#0000ff"/>
<text x="170.2" y="627.1" font-size="9.62" text-anchor="start" stroke="#000">mínima</text>
<path d="M225 623.5h20.9" stroke="#ff0000" stroke-width="1.0" fill="none"/>
<circle cx="235.5" cy="623.5" r="2.75" fill="#ff0000"/>
<text x="253.2" y="627.1" font-size="9.62" text-anchor="start" stroke="#000">máxima</text>
</g>
<g id="hi">
<clipPath id="chi"><path d="M56.5 855.5L56.5 802.55L99.5 802.55L142.5 802.55L185.5 802.55L228.5 813.45L271.5 802.55L314.5 802.55L357.5 802.55L400.5 813.45L443.5 824.05L486.5 824.05L529.5 824.05L572.5 824.05L615.5 824.05L658.5 824.05L701.5 821.53L744.5 812.91L744.5 855.5z"/></clipPath>
<linearGradient id="ghi" gradientUnits="userSpaceOnUse" x1="0" y1="855" x2="0" y2="801.12">
<stop offset="0" stop-color="#006400"/>
<stop offset="0.345" stop-color="#e8ffb4"/>
<stop offset="0.693" stop-color="#ffff00"/>
<stop offset="0.6931" stop-color="#fede2e"/>
<stop offset="1" stop-color="#d65406"/>
</linearGradient>
<rect x="56.5" y="798.12" width="688" height="58.38" fill="url(#ghi)" clip-path="url(#chi)"/>
<polyline points="56.5,801 99.5,801 142.5,801 185.5,801 228.5,811.9 271.5,801 314.5,801 357.5,801 400.5,811.9 443.5,822.5 486.5,822.5 529.5,822.5 572.5,822.5 615.5,822.5 658.5,822.5 701.5,819.98 744.5,811.36" fill="none" stroke="#111" stroke-width="0.9"/>
<text x="64.8" y="798.62" font-size="10.4" text-anchor="middle" font-style="italic" font-family="'DejaVu Sans Condensed','DejaVu Sans','Liberation Sans',sans-serif" stroke="#000">5</text>
<text x="98.9" y="798.62" font-size="10.4" text-anchor="middle" font-style="italic" font-family="'DejaVu Sans Condensed','DejaVu Sans','Liberation Sans',sans-serif" stroke="#000">5</text>
<text x="141.9" y="798.62" font-size="10.4" text-anchor="middle" font-style="italic" font-family="'DejaVu Sans Condensed','DejaVu Sans','Liberation Sans',sans-serif" stroke="#000">5</text>
<text x="184.9" y="798.62" font-size="10.4" text-anchor="middle" font-style="italic" font-family="'DejaVu Sans Condensed','DejaVu Sans','Liberation Sans',sans-serif" stroke="#000">5</text>
<text x="227.9" y="810.3" font-size="10.4" text-anchor="middle" font-style="italic" font-family="'DejaVu Sans Condensed','DejaVu Sans','Liberation Sans',sans-serif" stroke="#000">4</text>
<text x="270.9" y="798.62" font-size="10.4" text-anchor="middle" font-style="italic" font-family="'DejaVu Sans Condensed','DejaVu Sans','Liberation Sans',sans-serif" stroke="#000">5</text>
<text x="313.9" y="798.62" font-size="10.4" text-anchor="middle" font-style="italic" font-family="'DejaVu Sans Condensed','DejaVu Sans','Liberation Sans',sans-serif" stroke="#000">5</text>
<text x="356.9" y="798.62" font-size="10.4" text-anchor="middle" font-style="italic" font-family="'DejaVu Sans Condensed','DejaVu Sans','Liberation Sans',sans-serif" stroke="#000">5</text>
<text x="399.9" y="810.3" font-size="10.4" text-anchor="middle" font-style="italic" font-family="'DejaVu Sans Condensed','DejaVu Sans','Liberation Sans',sans-serif" stroke="#000">4</text>
<text x="442.9" y="821.07" font-size="10.4" text-anchor="middle" font-style="italic" font-family="'DejaVu Sans Condensed','DejaVu Sans','Liberation Sans',sans-serif" stroke="#000">3</text>
<text x="485.9" y="821.07" font-size="10.4" text-anchor="middle" font-style="italic" font-family="'DejaVu Sans Condensed','DejaVu Sans','Liberation Sans',sans-serif" stroke="#000">3</text>
<text x="528.9" y="821.07" font-size="10.4" text-anchor="middle" font-style="italic" font-family="'DejaVu Sans Condensed','DejaVu Sans','Liberation Sans',sans-serif" stroke="#000">3</text>
<text x="571.9" y="821.07" font-size="10.4" text-anchor="middle" font-style="italic" font-family="'DejaVu Sans Condensed','DejaVu Sans','Liberation Sans',sans-serif" stroke="#000">3</text>
<text x="614.9" y="821.07" font-size="10.4" text-anchor="middle" font-style="italic" font-family="'DejaVu Sans Condensed','DejaVu Sans','Liberation Sans',sans-serif" stroke="#000">3</text>
<text x="657.9" y="821.07" font-size="10.4" text-anchor="middle" font-style="italic" font-family="'DejaVu Sans Condensed','DejaVu Sans','Liberation Sans',sans-serif" stroke="#000">3</text>
<text x="700.9" y="818.38" font-size="10.4" text-anchor="middle" font-style="italic" font-family="'DejaVu Sans Condensed','DejaVu Sans','Liberation Sans',sans-serif" stroke="#000">3</text>
<text x="735.5" y="809.76" font-size="10.4" text-anchor="middle" font-style="italic" font-family="'DejaVu Sans Condensed','DejaVu Sans','Liberation Sans',sans-serif" stroke="#000">4</text>
<rect x="56.5" y="780.5" width="688" height="75" fill="none" stroke="#000" stroke-width="1.11"/>
<path d="M78.5 855.5v4.9M121.5 855.5v4.9M164.5 855.5v4.9M207.5 855.5v4.9M250.5 855.5v4.9M293.5 855.5v4.9M336.5 855.5v4.9M379.5 855.5v4.9M422.5 855.5v4.9M465.5 855.5v4.9M508.5 855.5v4.9M551.5 855.5v4.9M594.5 855.5v4.9M637.5 855.5v4.9M680.5 855.5v4.9M723.5 855.5v4.9" stroke="#000" stroke-width="1.11" fill="none"/>
<text x="78" y="876.1" font-size="10.8" text-anchor="middle" stroke="#000">07/Abr</text>
<text x="121" y="876.1" font-size="10.8" text-anchor="middle" stroke="#000">08/Abr</text>
<text x="164" y="876.1" font-size="10.8" text-anchor="middle" stroke="#000">09/Abr</text>
<text x="206" y="876.1" font-size="10.8" text-anchor="middle" stroke="#000">10/Abr</text>
<text x="249" y="876.1" font-size="10.8" text-anchor="middle" stroke="#000">11/Abr</text>
<text x="292" y="876.1" font-size="10.8" text-anchor="middle" stroke="#000">12/Abr</text>
<text x="335" y="876.1" font-size="10.8" text-anchor="middle" stroke="#000">13/Abr</text>
<text x="378" y="876.1" font-size="10.8" text-anchor="middle" stroke="#000">14/Abr</text>
<text x="421" y="876.1" font-size="10.8" text-anchor="middle" stroke="#000">15/Abr</text>
<text x="464" y="876.1" font-size="10.8" text-anchor="middle" stroke="#000">16/Abr</text>
<text x="507" y="876.1" font-size="10.8" text-anchor="middle" stroke="#000">17/Abr</text>
<text x="550" y="876.1" font-size="10.8" text-anchor="middle" stroke="#000">18/Abr</text>
<text x="593" y="876.1" font-size="10.8" text-anchor="middle" stroke="#000">19/Abr</text>
<text x="637" y="876.1" font-size="10.8" text-anchor="middle" stroke="#000">20/Abr</text>
<text x="680" y="876.1" font-size="10.8" text-anchor="middle" stroke="#000">21/Abr</text>
<text x="723" y="876.1" font-size="10.8" text-anchor="middle" stroke="#000">22/Abr</text>
<path d="M56.5 855.5h-4.9M56.5 828.5h-4.9M56.5 801.5h-4.9" stroke="#000" stroke-width="1.11" fill="none"/>
<text x="46.9" y="858.7" font-size="10.8" text-anchor="end" stroke="#000">0,0</text>
<text x="46.9" y="831.7" font-size="10.8" text-anchor="end" stroke="#000">2,5</text>
<text x="46.9" y="804.7" font-size="10.8" text-anchor="end" stroke="#000">5,0</text>
<text x="21" y="818.5" font-size="10.3" text-anchor="middle" stroke="#000" transform="rotate(-90 21 818.5)" font-family="'DejaVu Sans Condensed','DejaVu Sans','Liberation Sans',sans-serif">(HI)</text>
<text x="400" y="771.1" font-size="11.74" text-anchor="middle" stroke="#000">Risco de Incêndio (Haines Index)</text>
</g>
</svg></body></html>
